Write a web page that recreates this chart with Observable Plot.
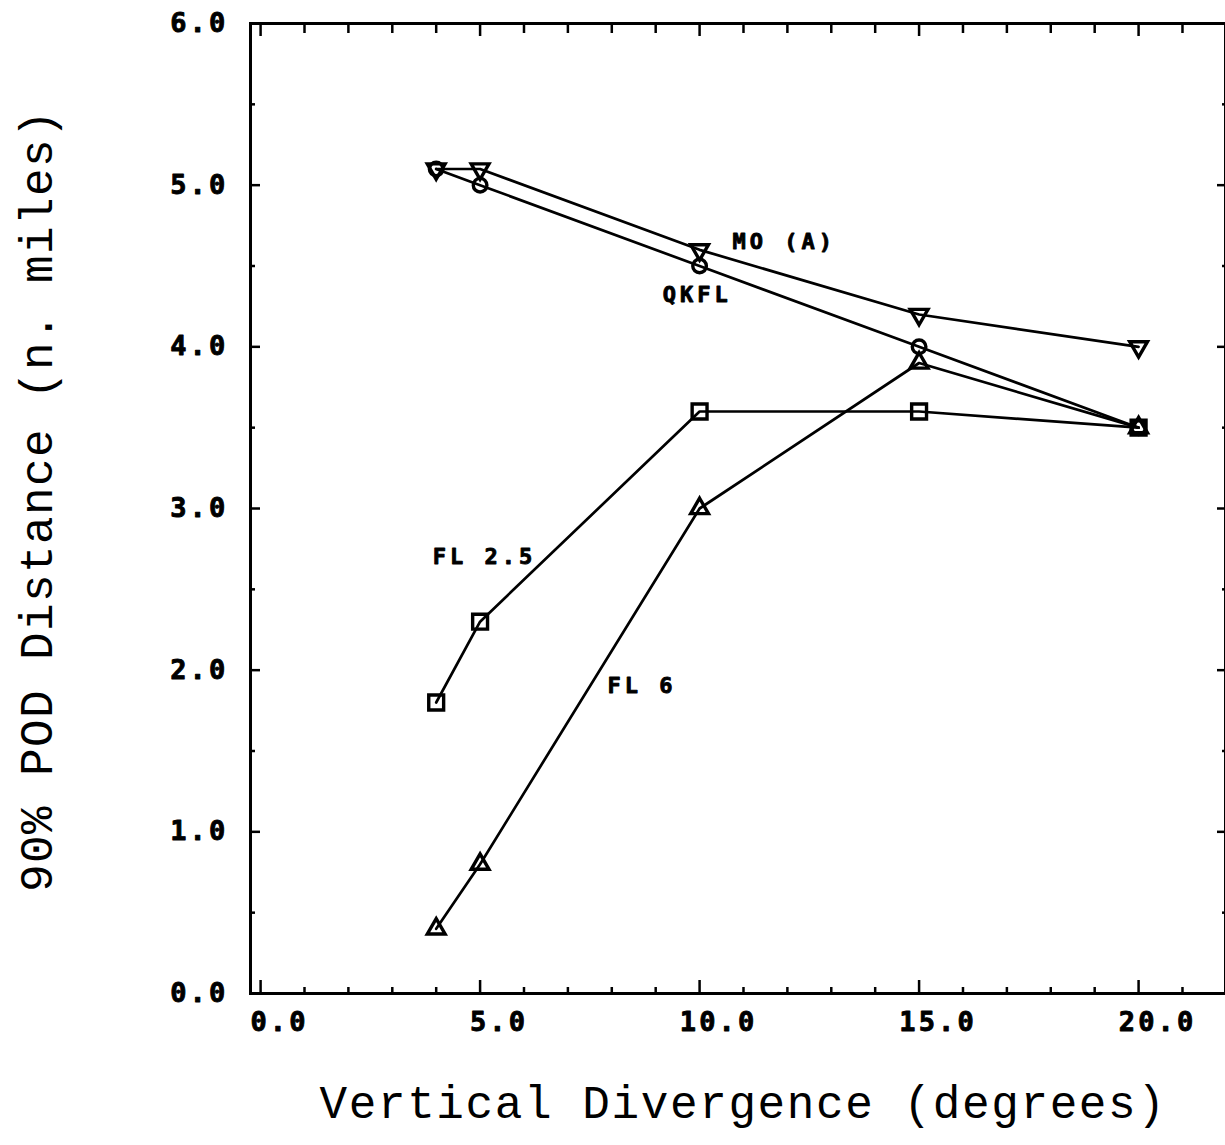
<!DOCTYPE html>
<html>
<head>
<meta charset="utf-8">
<script src="https://cdn.jsdelivr.net/npm/d3@7"></script>
<script src="https://cdn.jsdelivr.net/npm/@observablehq/plot@0.6"></script>
<style>
  html, body { margin: 0; padding: 0; background: #fff; overflow: hidden; }
  svg { display: block; }
</style>
</head>
<body>
<div id="chart"></div>
<script>
// ---- data ----
const divergence = [4, 5, 10, 15, 20];
const moA  = [5.1, 5.1, 4.6, 4.2, 4.0];
const qkfl = [5.1, 5.0, 4.5, 4.0, 3.5];
const fl25 = [1.8, 2.3, 3.6, 3.6, 3.5];
const fl6  = [0.4, 0.8, 3.0, 3.9, 3.5];
const seriesNames = ["MO (A)", "QKFL", "FL 2.5", "FL 6"];
// label anchor points (data units)
const labelX = [10.75, 9.16, 3.92, 7.90];
const labelY = [4.65, 4.32, 2.70, 1.90];
const xMajorTicks = [0, 5, 10, 15, 20];
const xMinorTicks = [1, 2, 3, 4, 6, 7, 8, 9, 11, 12, 13, 14, 16, 17, 18, 19, 21];
const yMajorTicks = [0, 1, 2, 3, 4, 5, 6];
const yMinorTicks = [0.5, 1.5, 2.5, 3.5, 4.5, 5.5];
const xTitle = "Vertical Divergence (degrees)";
const yTitle = "90% POD Distance (n. miles)";

// ---- build table ----
const allSeries = [moA, qkfl, fl25, fl6];
const rows = [];
allSeries.forEach((vals, i) => vals.forEach((v, j) => rows.push({series: seriesNames[i], x: divergence[j], y: v})));
const labels = seriesNames.map((name, i) => ({name, x: labelX[i], y: labelY[i]}));

const sqrt3 = Math.sqrt(3);
const triangleDown = {
  draw(context, size) {
    const y = -Math.sqrt(size / (sqrt3 * 3));
    context.moveTo(0, -y * 2);
    context.lineTo(-sqrt3 * y, y);
    context.lineTo(sqrt3 * y, y);
    context.closePath();
  }
};
const symbols = {"MO (A)": triangleDown, "QKFL": "circle", "FL 2.5": "square", "FL 6": "triangle"};
const radii = {"MO (A)": 6.6, "QKFL": 6.8, "FL 2.5": 8.4, "FL 6": 6.6};

const tickFont = "DejaVu Sans Mono, monospace";
const titleFont = "Liberation Mono, DejaVu Sans Mono, monospace";
const sw = 2.7;
const tk = {tickFormat: null, text: null, strokeWidth: 2.5, label: null};

const chart = Plot.plot({
  width: 1225,
  height: 1145,
  marginLeft: 250,
  marginRight: 0,
  marginTop: 23,
  marginBottom: 152,
  style: {background: "white", overflow: "visible"},
  x: {domain: [-0.23, 21.98]},
  y: {domain: [0, 6]},
  marks: [
    Plot.frame({stroke: "black", strokeWidth: 3}),
    // left axis
    Plot.axisY(yMajorTicks, {anchor: "left", tickSize: -10, ...tk}),
    Plot.axisY(yMinorTicks, {anchor: "left", tickSize: -5, ...tk}),
    Plot.axisY(yMajorTicks, {anchor: "left", tickSize: 0, tickPadding: 22, tickFormat: d => d.toFixed(1),
      fontSize: 27, fontWeight: "bold", fontFamily: tickFont, fill: "black", label: null}),
    // right axis
    Plot.axisY(yMajorTicks, {anchor: "right", tickSize: -9, ...tk}),
    Plot.axisY(yMinorTicks, {anchor: "right", tickSize: -4, ...tk}),
    // bottom axis
    Plot.axisX(xMajorTicks, {anchor: "bottom", tickSize: -13, ...tk}),
    Plot.axisX(xMinorTicks, {anchor: "bottom", tickSize: -6, ...tk}),
    Plot.axisX(xMajorTicks, {anchor: "bottom", tickSize: 0, tickPadding: 18, dx: 19, tickFormat: d => d.toFixed(1),
      fontSize: 27, fontWeight: "bold", fontFamily: tickFont, fill: "black", label: null}),
    // top axis
    Plot.axisX(xMajorTicks, {anchor: "top", tickSize: -12, ...tk}),
    Plot.axisX(xMinorTicks, {anchor: "top", tickSize: -9, ...tk}),
    // data lines
    Plot.line(rows, {x: "x", y: "y", z: "series", stroke: "black", strokeWidth: sw}),
    ...seriesNames.map(name => Plot.dot(rows.filter(d => d.series === name), {
      x: "x", y: "y", symbol: symbols[name], r: radii[name], stroke: "black", strokeWidth: 3.4, fill: "none"
    })),
    // series labels
    Plot.text(labels, {x: "x", y: "y", text: "name", textAnchor: "start", lineAnchor: "middle",
      fontSize: 22, fontWeight: "bold", fontFamily: tickFont, fill: "black"}),
    // axis titles
    Plot.text([xTitle], {frameAnchor: "bottom", dx: 5, dy: 110, textAnchor: "middle", lineAnchor: "middle", text: d => d,
      fontSize: 46, fontFamily: titleFont, fill: "black"}),
    Plot.text([yTitle], {frameAnchor: "left", dx: -213, dy: -8, rotate: -90, textAnchor: "middle", lineAnchor: "middle",
      text: d => d, fontSize: 46, fontFamily: titleFont, fill: "black"})
  ]
});

// letter spacing and stroke weight (style only)
d3.select(chart).selectAll("text").each(function() {
  const t = this.textContent;
  const g = this.closest("g");
  const aria = g ? g.getAttribute("aria-label") : "";
  let ls = null, heavy = false;
  if (aria === "y-axis tick label" || aria === "x-axis tick label") { ls = 3.2; heavy = true; }
  else if (seriesNames.includes(t)) { ls = 4; heavy = true; }
  else if (t === xTitle) ls = 1.6;
  else if (t === yTitle) ls = 1.4;
  if (ls != null) this.style.letterSpacing = ls + "px";
  if (heavy) { this.style.stroke = "black"; this.style.strokeWidth = "0.9px"; this.style.strokeLinejoin = "round"; }
});
document.getElementById("chart").appendChild(chart);
</script>
</body>
</html>
